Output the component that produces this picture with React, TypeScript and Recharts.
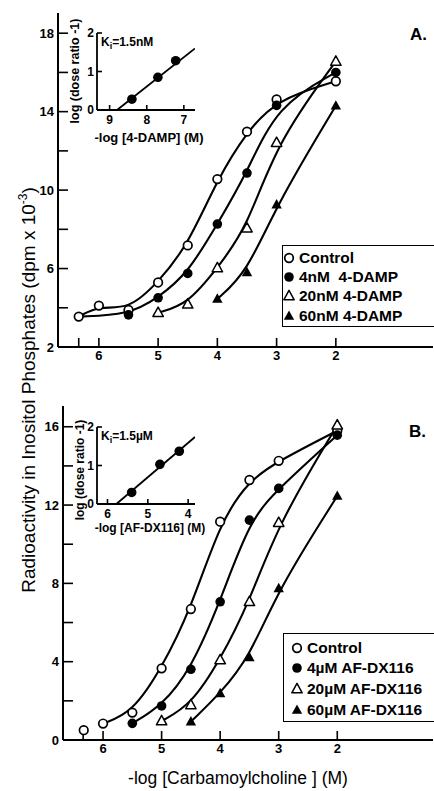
import React from 'react';
import { ComposedChart, Line, Scatter, XAxis, YAxis } from 'recharts';

// Panel A: carbachol response with 4-DAMP
const xA_control = [6.34, 6, 5.5, 5, 4.5, 4, 3.5, 3, 2];
const yA_control = [3.55, 4.11, 3.89, 5.29, 7.18, 10.56, 12.98, 14.62, 15.55];
const xA_4nM = [5.5, 5, 4.5, 4, 3.5, 3, 2];
const yA_4nM = [3.64, 4.51, 5.75, 8.27, 10.87, 14.32, 16.0];
const xA_20nM = [5, 4.5, 4, 3.5, 3, 2];
const yA_20nM = [3.75, 4.18, 6.03, 8.06, 12.42, 16.56];
const xA_60nM = [4, 3.5, 3, 2];
const yA_60nM = [4.45, 5.8, 9.26, 14.3];

// Panel B: carbachol response with AF-DX116
const xB_control = [6.33, 6, 5.5, 5, 4.5, 4, 3.5, 3, 2];
const yB_control = [0.5, 0.84, 1.4, 3.66, 6.69, 11.15, 13.28, 14.26, 15.8];
const xB_4uM = [5.5, 5, 4.5, 4, 3.5, 3, 2];
const yB_4uM = [0.85, 1.74, 3.61, 7.06, 11.23, 12.85, 15.57];
const xB_20uM = [5, 4.5, 4, 3.5, 3, 2];
const yB_20uM = [0.97, 1.79, 4.09, 7.06, 11.1, 16.08];
const xB_60uM = [4.5, 4, 3.5, 3, 2];
const yB_60uM = [0.94, 2.38, 4.22, 7.74, 12.46];

// insets (Schild plots)
const insetA_x = [8.4, 7.7, 7.22];
const insetA_y = [0.28, 0.85, 1.28];
const insetA_fitX = [8.8, 6.7];
const insetA_fitY = [0, 1.6];
const insetB_x = [5.4, 4.7, 4.22];
const insetB_y = [0.3, 1.03, 1.37];
const insetB_fitX = [5.78, 3.83];
const insetB_fitY = [0, 1.74];

const xTicks = [6.34, 6, 5, 4, 3, 2];
const yTicksA = [2, 4, 6, 8, 10, 12, 14, 16, 18];
const yLabelsA = [2, 6, 10, 14, 18];
const yTicksB = [0, 2, 4, 6, 8, 10, 12, 14, 16];
const yLabelsB = [0, 4, 8, 12, 16];

const FONT = '"Liberation Sans", Arial, Helvetica, sans-serif';

type Pt = { x: number; y: number };
const zip = (xs: number[], ys: number[]): Pt[] => xs.map((x, i) => ({ x, y: ys[i] }));

interface Series {
  name: string;
  kind: string;
  pts: Pt[];
  curve: Pt[];
}

const ctlA = zip(xA_control, yA_control);
const seriesA: Series[] = [
  { name: 'Control', kind: 'open', pts: ctlA, curve: ctlA },
  { name: '4nM  4-DAMP', kind: 'filled', pts: zip(xA_4nM, yA_4nM), curve: [ctlA[0], ...zip(xA_4nM, yA_4nM)] },
  { name: '20nM 4-DAMP', kind: 'openTri', pts: zip(xA_20nM, yA_20nM), curve: zip(xA_20nM, yA_20nM) },
  { name: '60nM 4-DAMP', kind: 'filledTri', pts: zip(xA_60nM, yA_60nM), curve: zip(xA_60nM, yA_60nM) },
];

const ctlB = zip(xB_control, yB_control);
const seriesB: Series[] = [
  { name: 'Control', kind: 'open', pts: ctlB, curve: ctlB.slice(1) },
  { name: '4\u00b5M AF-DX116', kind: 'filled', pts: zip(xB_4uM, yB_4uM), curve: zip(xB_4uM, yB_4uM) },
  { name: '20\u00b5M AF-DX116', kind: 'openTri', pts: zip(xB_20uM, yB_20uM), curve: zip(xB_20uM, yB_20uM) },
  { name: '60\u00b5M AF-DX116', kind: 'filledTri', pts: zip(xB_60uM, yB_60uM), curve: zip(xB_60uM, yB_60uM) },
];

const Marker = ({ cx, cy, kind }: { cx?: number; cy?: number; kind: string }) => {
  if (cx == null || cy == null) return null;
  if (kind === 'open') return <circle cx={cx} cy={cy} r={4.3} fill="#fff" stroke="#000" strokeWidth={1.7} />;
  if (kind === 'filled') return <circle cx={cx} cy={cy} r={4.8} fill="#000" />;
  const pts = `${cx},${cy - 5.6} ${cx + 5.2},${cy + 3.8} ${cx - 5.2},${cy + 3.8}`;
  if (kind === 'openTri') return <polygon points={pts} fill="#fff" stroke="#000" strokeWidth={1.5} strokeLinejoin="round" />;
  return <polygon points={pts} fill="#000" />;
};

const tickStyle = { fill: '#000', fontSize: 13, fontWeight: 700, fontFamily: FONT };
const axisLine = { stroke: '#000', strokeWidth: 2 };
const tickLine = { stroke: '#000', strokeWidth: 1.6 };

function MainPanel(props: {
  series: Series[];
  top: number;
  axisW: number;
  xDomain: [number, number];
  yDomain: [number, number];
  yTicks: number[];
  yLabels: number[];
}) {
  const { series, top, axisW, xDomain, yDomain, yTicks, yLabels } = props;
  return (
    <div style={{ position: 'absolute', left: 0, top }}>
      <ComposedChart width={434} height={400} margin={{ top: 13, right: 1, left: 0, bottom: 23 }}>
        <XAxis
          dataKey="x"
          type="number"
          domain={xDomain}
          reversed
          allowDataOverflow
          ticks={xTicks}
          interval={0}
          tickFormatter={(v: number) => (v === 6.34 ? '' : String(v))}
          height={30}
          tickSize={-9}
          tickMargin={13}
          axisLine={axisLine}
          tickLine={tickLine}
          tick={tickStyle}
        />
        <XAxis xAxisId="top" orientation="top" type="number" domain={[0, 1]} height={0} tick={false} tickLine={false} axisLine={axisLine} />
        <YAxis
          type="number"
          domain={yDomain}
          allowDataOverflow
          ticks={yTicks}
          interval={0}
          tickFormatter={(v: number) => (yLabels.includes(v) ? String(v) : '')}
          width={axisW}
          tickSize={-10}
          tickMargin={14}
          axisLine={axisLine}
          tickLine={tickLine}
          tick={tickStyle}
        />
        <YAxis yAxisId="r" orientation="right" type="number" domain={[0, 1]} width={0} tick={false} tickLine={false} axisLine={{ stroke: '#000', strokeWidth: 1.2 }} />
        {series.map((s) => (
          <Line key={'l' + s.name} data={s.curve} dataKey="y" type="basis" stroke="#000" strokeWidth={2.1} dot={false} isAnimationActive={false} />
        ))}
        {series.map((s) => (
          <Scatter key={'s' + s.name} data={s.pts} dataKey="y" isAnimationActive={false} shape={(p: any) => <Marker cx={p.cx} cy={p.cy} kind={s.kind} />} />
        ))}
      </ComposedChart>
    </div>
  );
}

const insetTick = { fill: '#000', fontSize: 12, fontWeight: 700, fontFamily: FONT };

function Inset(props: {
  top: number;
  pts: Pt[];
  fit: Pt[];
  xDomain: [number, number];
  xTicks: number[];
}) {
  const { top, pts, fit, xDomain, xTicks: ticks } = props;
  const frame = { stroke: '#000', strokeWidth: 1.8 };
  return (
    <div style={{ position: 'absolute', left: 0, top }}>
      <ComposedChart width={220} height={150} margin={{ top: 33, right: 25, left: 0, bottom: 0 }}>
        <XAxis
          dataKey="x"
          type="number"
          domain={xDomain}
          reversed
          allowDataOverflow
          ticks={ticks}
          interval={0}
          height={40}
          tickSize={-5}
          tickMargin={10}
          axisLine={frame}
          tickLine={tickLine}
          tick={insetTick}
        />
        <XAxis xAxisId="top" orientation="top" type="number" domain={[0, 1]} height={0} tick={false} tickLine={false} axisLine={frame} />
        <YAxis
          type="number"
          domain={[0, 2]}
          ticks={[0, 1, 2]}
          interval={0}
          width={97}
          tickSize={-5}
          tickMargin={8}
          axisLine={frame}
          tickLine={tickLine}
          tick={insetTick}
        />
        <YAxis yAxisId="r" orientation="right" type="number" domain={[0, 1]} width={0} tick={false} tickLine={false} axisLine={frame} />
        <Line data={fit} dataKey="y" type="linear" stroke="#000" strokeWidth={1.8} dot={false} isAnimationActive={false} />
        <Scatter data={pts} dataKey="y" isAnimationActive={false} shape={(p: any) => <Marker cx={p.cx} cy={p.cy} kind="filled" />} />
      </ComposedChart>
    </div>
  );
}

function LegendBox(props: { left: number; top: number; height: number; rows: Series[]; rowY: number[]; markX: number; textX: number }) {
  const { left, top, height, rows, rowY, markX, textX } = props;
  return (
    <div style={{ position: 'absolute', left, top, width: 160, height, border: '1.6px solid #000', boxSizing: 'border-box', background: '#fff' }}>
      {rows.map((s, i) => (
        <div key={s.name} style={{ position: 'absolute', left: 0, top: rowY[i] - 10, height: 20, width: 160 }}>
          <svg width={20} height={20} style={{ position: 'absolute', left: markX - 10, top: 0 }}>
            <Marker cx={10} cy={10} kind={s.kind} />
          </svg>
          <span style={{ position: 'absolute', left: textX, top: 0, fontFamily: FONT, fontWeight: 700, fontSize: 15.5, whiteSpace: 'pre', lineHeight: '20px' }}>
            {s.name}
          </span>
        </div>
      ))}
    </div>
  );
}

const abs = (extra: React.CSSProperties): React.CSSProperties => ({ position: 'absolute', fontFamily: FONT, whiteSpace: 'nowrap', color: '#000', ...extra });

export default function App() {
  return (
    <div style={{ position: 'absolute', left: 0, top: 0, width: 434, height: 791, background: '#fff', overflow: 'hidden' }}>
      <MainPanel series={seriesA} top={0} axisW={58} xDomain={[0.36, 6.69]} yDomain={[2, 19.03]} yTicks={yTicksA} yLabels={yLabelsA} />
      <MainPanel series={seriesB} top={393} axisW={63} xDomain={[0.365, 6.684]} yDomain={[0, 17.06]} yTicks={yTicksB} yLabels={yLabelsB} />

      <Inset top={0} pts={zip(insetA_x, insetA_y)} fit={zip(insetA_fitX, insetA_fitY)} xDomain={[6.7, 9.34]} xTicks={[9, 8, 7]} />
      <Inset top={394} pts={zip(insetB_x, insetB_y)} fit={zip(insetB_fitX, insetB_fitY)} xDomain={[3.83, 6.26]} xTicks={[6, 5, 4]} />

      <LegendBox left={282} top={245} height={82} rows={seriesA} rowY={[12, 31, 50, 70]} markX={6} textX={16} />
      <LegendBox left={283} top={633} height={89} rows={seriesB} rowY={[14, 34, 55, 76]} markX={13} textX={23} />

      <div style={abs({ left: 410, top: 25, fontSize: 17, fontWeight: 700 })}>A.</div>
      <div style={abs({ left: 409, top: 422, fontSize: 17, fontWeight: 700 })}>B.</div>

      <div style={abs({ left: 101, top: 35, fontSize: 12, fontWeight: 700 })}>
        K<sub style={{ fontSize: 9 }}>i</sub>=1.5nM
      </div>
      <div style={abs({ left: 101, top: 429, fontSize: 12, fontWeight: 700 })}>
        K<sub style={{ fontSize: 9 }}>i</sub>=1.5{'\u00b5'}M
      </div>

      <div style={abs({ left: 75, top: 71, fontSize: 12.5, fontWeight: 700, transform: 'translate(-50%, -50%) rotate(-90deg)' })}>log (dose ratio -1)</div>
      <div style={abs({ left: 80, top: 470, fontSize: 12, fontWeight: 700, transform: 'translate(-50%, -50%) rotate(-90deg)' })}>log (dose ratio -1)</div>

      <div style={abs({ left: 149, top: 137, fontSize: 13, fontWeight: 700, transform: 'translate(-50%, -50%)' })}>-log [4-DAMP] (M)</div>
      <div style={abs({ left: 150, top: 528, fontSize: 12, fontWeight: 700, transform: 'translate(-50%, -50%)' })}>-log [AF-DX116] (M)</div>

      <div style={abs({ left: 28, top: 390, fontSize: 19, transform: 'translate(-50%, -50%) rotate(-90deg)' })}>
        Radioactivity in Inositol Phosphates (dpm x 10<sup style={{ fontSize: 12 }}>-3</sup>)
      </div>
      <div style={abs({ left: 238, top: 778, fontSize: 17.5, transform: 'translate(-50%, -50%)' })}>-log [Carbamoylcholine ] (M)</div>
    </div>
  );
}
